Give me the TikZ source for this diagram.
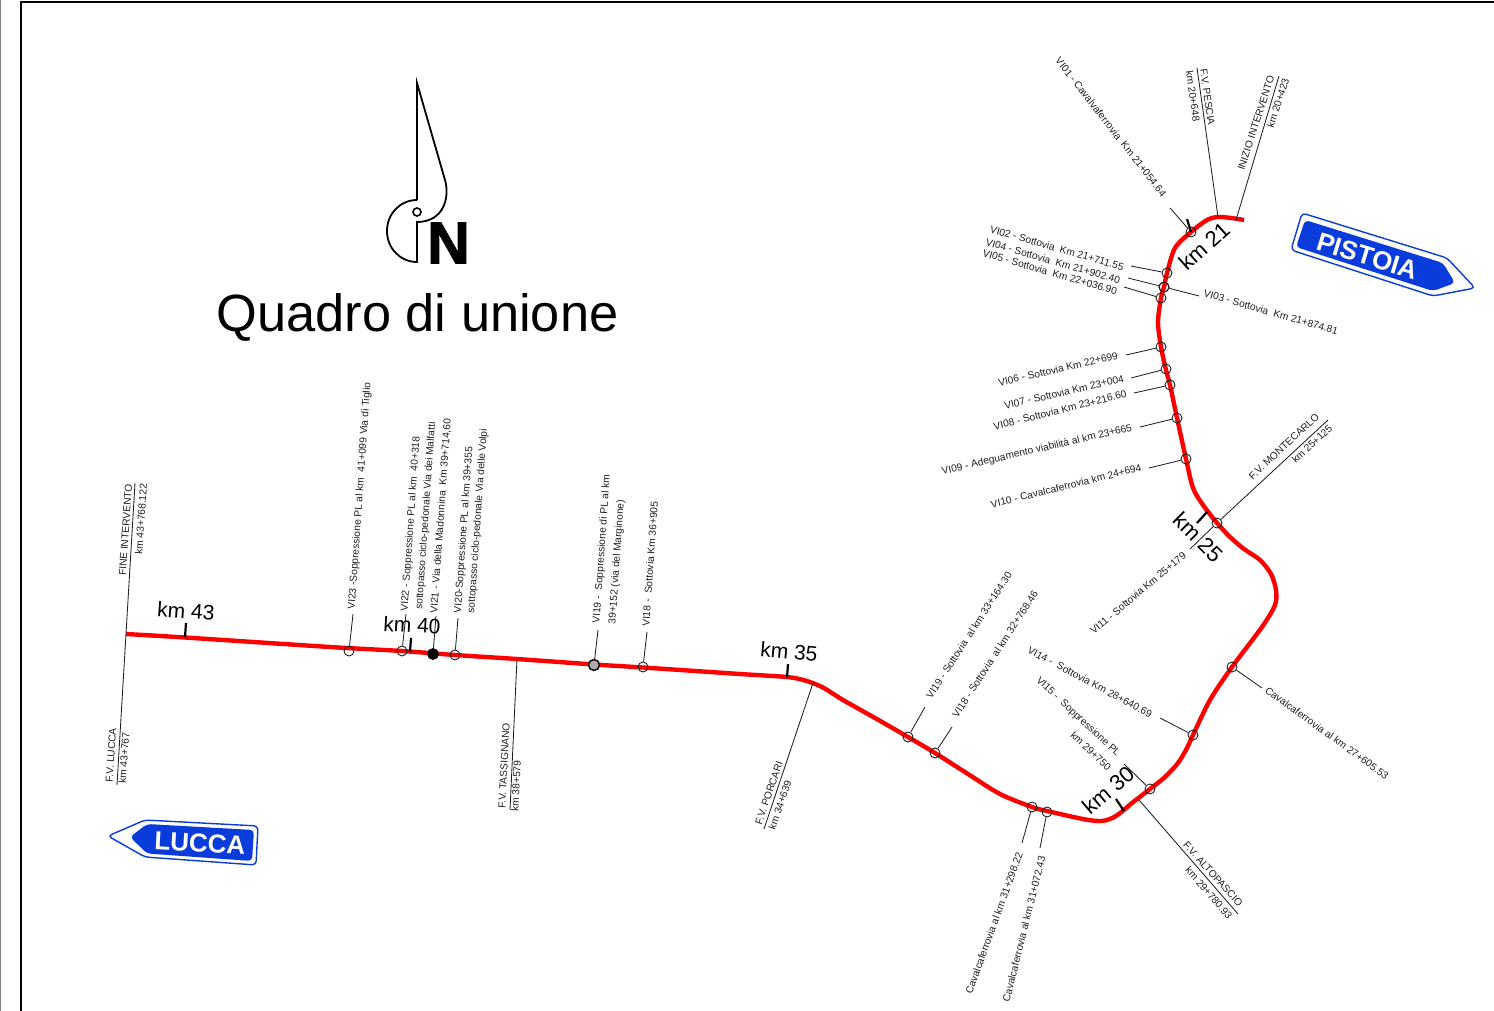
\documentclass[tikz,border=0pt]{standalone}
\usepackage{fontspec}
\setmainfont{Liberation Sans}
\newfontfamily\northfont[BoldFeatures={FakeBold=2}]{Liberation Sans}
\definecolor{signblue}{HTML}{0A3CDC}
\definecolor{ink}{HTML}{1E1E1E}
\tikzset{
  lbl/.style={font=\fontsize{5.1}{5.1}\selectfont, text=ink, inner sep=0pt, anchor=center},
  kmlbl/.style={font=\fontsize{10.5}{10.5}\selectfont, text=black, inner sep=0pt, anchor=center},
  kmbig/.style={font=\fontsize{11}{11}\selectfont, text=black, inner sep=0pt, anchor=center},
  mk/.style={circle, draw=ink, line width=0.45pt, inner sep=0pt, minimum size=5pt},
  mkblack/.style={circle, draw=black, fill=black, line width=0.4pt, inner sep=0pt, minimum size=5.5pt},
  mkgray/.style={circle, draw=black, fill=gray!65, line width=0.7pt, inner sep=0pt, minimum size=5.5pt},
  leader/.style={draw=ink, line width=0.42pt},
  tick/.style={draw=black, line width=1.1pt},
  route/.style={draw=red, line width=2.2pt, line join=round},
  signtxt/.style={font=\bfseries\fontsize{13}{13}\selectfont, text=white, inner sep=0pt},
}
\newcommand{\mklead}[4][mk]{%
  \node[#1] (#2) at (#3) {};
  \coordinate (#2e) at (#4);
  \draw[leader] (#2) -- (#2e);}
\begin{document}
\begin{tikzpicture}[x=0.5pt,y=-0.5pt]
\useasboundingbox (0,0) rectangle (1494,1011);
% sheet frame
\draw[gray,line width=0.8pt] (0.5,0) -- (0.5,1011);
\draw[black,line width=1pt] (21,1011) -- (21,2) -- (1494,2);
% north arrow
\draw[black,line width=0.9pt,line join=miter] (417,200) -- (417,83) -- (445,180)
  .. controls (450,197) and (444,222) .. (417,222) -- (417,262)
  .. controls (400,262) and (387,248) .. (387,231)
  .. controls (387,214) and (400,200) .. (417,200);
\node[circle,draw=black,fill=white,line width=0.8pt,inner sep=0pt,minimum size=4pt] (northhole) at (417,212) {};
\node[font=\northfont\bfseries\fontsize{29.5}{29.5}\selectfont,inner sep=0pt] (northN) at (448.5,243) {N};
\node[font=\fontsize{26.2}{26.2}\selectfont,inner sep=0pt] (title) at (417.5,317) {Quadro di unione};
% route
\draw[route] plot[smooth,tension=0.5] coordinates {
 (126,634) (185,637.5) (330,647) (402,651) (455,655) (517,659) (594,664.5) (643,667.5) (740,674) (787,677) (805,680.5) (822,687) (843,700) (875,718)
 (908,737) (935,753) (968,774) (1000,794) (1032,807) (1047,811) (1083,819) (1102,821) (1116,816) (1132,803) (1150,789) (1165,777) (1178,763) (1187,748) (1193,735)
 (1210,700) (1232,667) (1262,627) (1275,605) (1276,590) (1271,574) (1260,560) (1244,549) (1230,537) (1217,523) (1203,505)
 (1193,488) (1186,459) (1177,418) (1170,385) (1166,370) (1161,347) (1158,322) (1161,298) (1164,287) (1167,273) (1175,248) (1191,232)
 (1207,220) (1218,217) (1231,218) (1244,220)};
% km ticks and labels
\node[kmlbl,rotate=-4] (km43) at (186,611) {km 43};
\draw[tick] (186,623) -- (185,637);
\node[kmlbl,rotate=-3] (km40) at (412,625) {km 40};
\draw[tick] (411,638) -- (410,652);
\node[kmlbl,rotate=-5] (km35) at (789,652) {km 35};
\draw[tick] (788,664) -- (787,678);
\node[kmbig,rotate=40] (km30) at (1108,790) {km 30};
\draw[tick] (1116,799) -- (1124,811);
\node[kmbig,rotate=-45] (km25) at (1198,537) {km 25};
\draw[tick] (1197,523) -- (1207,512);
\node[kmbig,rotate=42] (km21) at (1204,246) {km 21};
\draw[tick] (1187,219) -- (1191,232);
% markers north branch
\mklead{vi01}{1191,232}{1170,208}
\node[lbl,rotate=-52] (t01) at (1111,127) {VI01 - Cavalvaferrovia~ Km 21+054.64};
\mklead{vi02}{1167,273}{1131,266}
\node[lbl,rotate=-16] (t02) at (1057,248) {VI02 - Sottovia~ Km 21+711.55};
\mklead{vi04}{1164,287}{1128,278}
\node[lbl,rotate=-16] (t04) at (1053,261) {VI04 - Sottovia~ Km 21+902.40};
\mklead{vi03}{1164,287}{1199,296}
\node[lbl,rotate=-16] (t03) at (1271,312) {VI03 - Sottovia~ Km 21+874.81};
\mklead{vi05}{1161,298}{1124,287}
\node[lbl,rotate=-16] (t05) at (1050,272) {VI05 - Sottovia~ Km 22+036.90};
\mklead{vi06}{1161,347}{1126,355}
\node[lbl,rotate=13] (t06) at (1058,369) {VI06 - Sottovia Km 22+699};
\mklead{vi07}{1166,369}{1131,378}
\node[lbl,rotate=13] (t07) at (1064,392) {VI07 - Sottovia Km 23+004};
\mklead{vi08}{1170,385}{1134,393}
\node[lbl,rotate=14] (t08) at (1060,410) {VI08 - Sottovia Km 23+216.60};
\mklead{vi09}{1177,418}{1140,427}
\node[lbl,rotate=13] (t09) at (1037,450) {VI09 - Adeguamento viabilità al km 23+665};
\mklead{vi10}{1186,459}{1149,468}
\node[lbl,rotate=14] (t10) at (1066,486) {VI10 - Cavalcaferrovia km 24+694};
\mklead{vi11}{1217,523}{1190,549}
\node[lbl,rotate=40] (t11) at (1138,593) {VI11 - Sottovia Km 25+179};
\coordinate (monte) at (1328,420);
\draw[leader] (vi11) -- (monte);
\node[lbl,rotate=43] (tmonte) at (1284,446.5) {F.V. MONTECARLO};
\node[lbl,rotate=43] (tmontek) at (1312,444) {km 25+125};
% stations top
\coordinate (pescia0) at (1218,217);
\coordinate (pescia1) at (1197,68);
\draw[leader] (pescia0) -- (pescia1);
\node[lbl,rotate=-82] (tpescia) at (1207.5,97) {F.V. PESCIA};
\node[lbl,rotate=-82] (tpesciak) at (1193,96) {km 20+648};
\coordinate (iniz0) at (1236,220);
\coordinate (iniz1) at (1279,76);
\draw[leader] (iniz0) -- (iniz1);
\node[lbl,rotate=72] (tiniz) at (1256,123) {INIZIO INTERVENTO};
\node[lbl,rotate=72] (tinizk) at (1278,103) {km 20+423};
% south-east branch
\mklead{v2760}{1232,667}{1262,688}
\node[lbl,rotate=-36] (t2760) at (1327,733) {Cavalcaferrovia al km 27+605.53};
\mklead{vi14}{1193,735}{1160,718}
\node[lbl,rotate=-28] (t14) at (1090,682) {VI14 -~ Sottovia Km 28+640.69};
\mklead{vi15}{1150,789}{1124,764}
\node[lbl,rotate=-43] (t15) at (1078,717) {VI15 -~ Soppressione PL};
\node[lbl,rotate=-43] (t15k) at (1091,751) {km 29+750};
\coordinate (alto0) at (1139,800);
\coordinate (alto1) at (1238,914);
\draw[leader] (alto0) -- (alto1);
\node[lbl,rotate=-48] (talto) at (1213,874) {F.V. ALTOPASCIO};
\node[lbl,rotate=-49] (taltok) at (1209,893) {km 29+780.93};
\mklead{v3129}{1032,807}{1022,843}
\node[lbl,rotate=70] (t3129) at (994,923) {Cavalcaferrovia al km 31+298.22};
\mklead{v3107}{1047,812}{1040,848}
\node[lbl,rotate=76] (t3107) at (1024,929) {Cavalcaferrovia al km 31+072.43};
\mklead{v33}{908,737}{925,707}
\node[lbl,rotate=57] (t33) at (969,635) {VI19 - Sottovia~ al km 33+164.30};
\mklead{v32}{935,753}{952,727}
\node[lbl,rotate=57] (t32) at (995,654) {VI18 - Sottovia~ al km 32+768.46};
\coordinate (porc0) at (813,683);
\coordinate (porc1) at (764,829);
\draw[leader] (porc0) -- (porc1);
\node[lbl,rotate=71] (tporc) at (769,793) {F.V. PORCARI};
\node[lbl,rotate=71] (tporck) at (780,805) {km 34+639};
% straight part
\mklead{s18}{643,667}{647,632}
\node[lbl,rotate=86] (ts18) at (650,564) {VI18 -~ Sottovia Km 36+905};
\mklead[mkgray]{s19}{594,665}{598,630}
\node[lbl,rotate=86] (ts19a) at (602,549) {VI19 -~ Soppressione di PL al km};
\node[lbl,rotate=86] (ts19b) at (617,562) {39+152 (via del Marginone)};
\coordinate (tass0) at (517,659);
\coordinate (tass1) at (510,810);
\draw[leader] (tass0) -- (tass1);
\node[lbl,rotate=87] (ttass) at (504,766) {F.V. TASSIGNANO};
\node[lbl,rotate=87] (ttassk) at (516,786) {km 38+579};
\mklead{s20}{455,655}{458,618}
\node[lbl,rotate=86] (ts20a) at (464,530) {VI20-Soppressione PL al km 39+355};
\node[lbl,rotate=86] (ts20b) at (478,521) {sottopasso ciclo-pedonale Via delle Volpi};
\mklead[mkblack]{s21}{433,654}{436,616}
\node[lbl,rotate=86] (ts21) at (441,516) {VI21 - Via della Madonnina~ Km 39+714,60};
\mklead{s22}{402,651}{406,614}
\node[lbl,rotate=86] (ts22a) at (411,524) {VI22 - Soppressione PL al km~ 40+318};
\node[lbl,rotate=86] (ts22b) at (426,516) {sottopasso ciclo-pedonale Via dei Malfatti};
\mklead{s23}{349,651}{353,614}
\node[lbl,rotate=86] (ts23) at (360,496) {VI23 -Soppressione PL al km~ 41+099 Via di Tiglio};
% west end
\coordinate (fine0) at (135,483);
\coordinate (fine1) at (117,785);
\draw[leader] (fine0) -- (fine1);
\node[lbl,rotate=86] (tfine) at (125.5,530) {FINE INTERVENTO};
\node[lbl,rotate=86] (tfinek) at (141,519) {km 43+768.122};
\node[lbl,rotate=86] (tlucca) at (111,755) {F.V. LUCCA};
\node[lbl,rotate=86] (tluccak) at (124,758) {km 43+767};
% signs
\draw[signblue,fill=white,line width=0.7pt,rounded corners=2pt] (108,836) -- (145,820) -- (258,826) -- (256,865) -- (145,857) -- cycle;
\fill[signblue,rounded corners=2pt] (130,837) -- (147,824) -- (254,830) -- (252,861) -- (147,853.5) -- cycle;
\node[signtxt,rotate=-3] (lucca) at (200,843) {LUCCA};
\draw[signblue,fill=white,line width=0.7pt,rounded corners=2pt] (1302,213) -- (1447,258) -- (1475,288) -- (1433,296) -- (1291,250) -- cycle;
\fill[signblue,rounded corners=2pt] (1305,220) -- (1443,263) -- (1455,283) -- (1433,291) -- (1296,247) -- cycle;
\node[signtxt,rotate=-17] (pistoia) at (1367.5,256) {PISTOIA};
\end{tikzpicture}
\end{document}
